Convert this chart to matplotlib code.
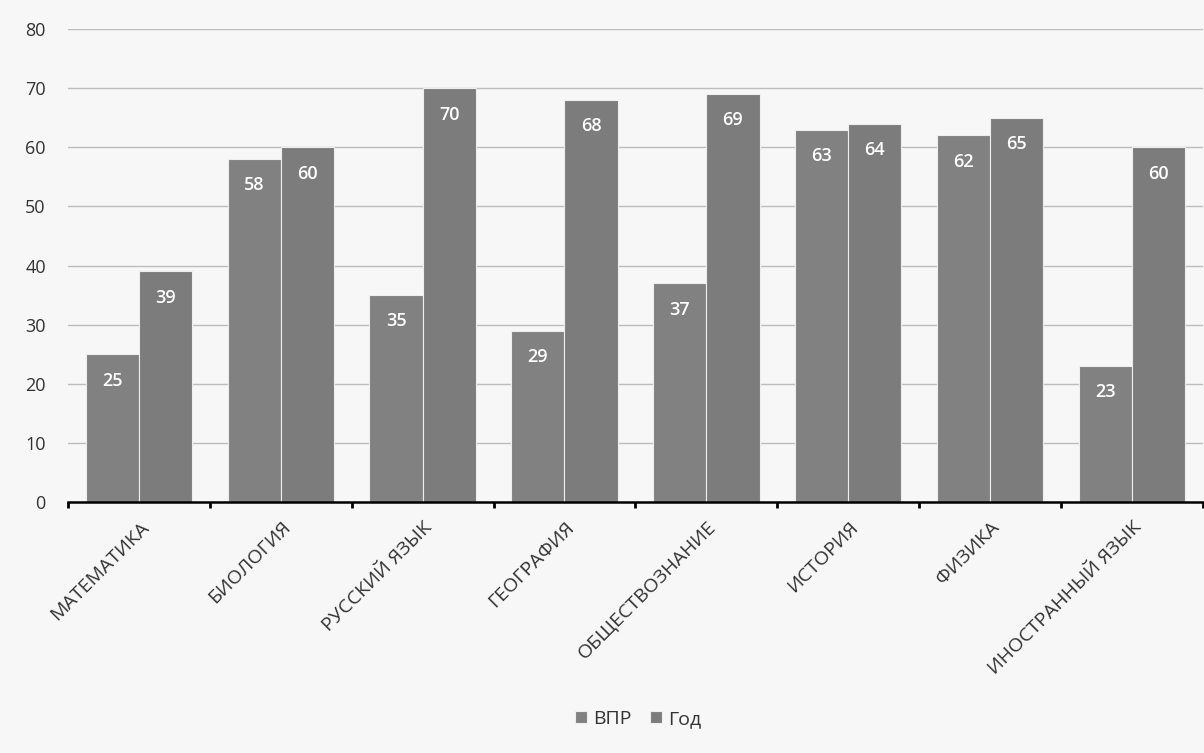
import numpy as np
import matplotlib.pyplot as plt

plt.rcParams['font.family'] = ['Open Sans', 'DejaVu Sans']

subjects = ['МАТЕМАТИКА', 'БИОЛОГИЯ', 'РУССКИЙ ЯЗЫК', 'ГЕОГРАФИЯ',
            'ОБЩЕСТВОЗНАНИЕ', 'ИСТОРИЯ', 'ФИЗИКА', 'ИНОСТРАННЫЙ ЯЗЫК']
vpr = [25, 58, 35, 29, 37, 63, 62, 23]
god = [39, 60, 70, 68, 69, 64, 65, 60]

x = np.arange(len(subjects))
w = 0.375

fig = plt.figure(figsize=(12.04, 7.53), dpi=100, facecolor='#f7f7f7')
ax = fig.add_axes([0.0565, 0.3333, 0.9425, 0.6282])
ax.set_facecolor('#f7f7f7')

b1 = ax.bar(x - w / 2, vpr, w, color='#818181', edgecolor='#eeeeee', linewidth=0.8,
            label='ВПР', zorder=2)
b2 = ax.bar(x + w / 2, god, w, color='#7c7c7c', edgecolor='#eeeeee', linewidth=0.8,
            label='Год', zorder=2)

for bars in (b1, b2):
    for r in bars:
        ax.annotate(f'{int(r.get_height())}',
                    (r.get_x() + r.get_width() / 2, r.get_height()),
                    xytext=(0, -19), textcoords='offset points',
                    ha='center', va='center', color='white', fontsize=13,
                    fontweight='semibold', zorder=3)

ax.set_ylim(0, 80)
ax.set_xlim(-0.5, len(subjects) - 0.5)
ax.set_yticks(range(0, 81, 10))
ax.yaxis.grid(True, color='#bdbdbd', linewidth=1.0, zorder=0)
ax.tick_params(axis='y', length=0, labelsize=13, pad=16, labelcolor='#333333')

ax.set_xticks(np.arange(len(subjects) + 1) - 0.5)
ax.set_xticklabels([])
ax.tick_params(axis='x', length=4, width=2, direction='out', color='black')

for i, s in enumerate(subjects):
    ax.annotate(s, (i, 0), xytext=(5, -16), textcoords='offset points',
                rotation=45, rotation_mode='anchor', ha='right', va='center',
                fontsize=14, color='#333333')

for side in ('left', 'right', 'top'):
    ax.spines[side].set_visible(False)
ax.spines['bottom'].set_linewidth(1.8)
ax.spines['bottom'].set_color('black')

fig.legend(handles=[b1, b2], labels=['ВПР', 'Год'], loc='center',
           bbox_to_anchor=(0.53, 0.045), ncol=2, frameon=False, fontsize=14,
           handlelength=0.6, handleheight=0.6, handletextpad=0.3, columnspacing=1.0,
           labelcolor='#333333')

fig.savefig('out.png', dpi=100, facecolor=fig.get_facecolor())
